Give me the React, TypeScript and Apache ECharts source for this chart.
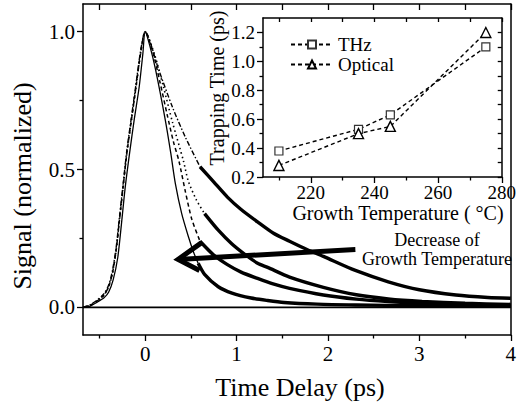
import React, { useEffect, useRef } from 'react';
import * as echarts from 'echarts';

const FONT = "'Liberation Serif', 'Times New Roman', serif";

// ---- main plot data (Time Delay in ps, normalized signal) ----
const curveAThin = [
  [-0.68, 0], [-0.6, 0.005], [-0.53, 0.018], [-0.45, 0.035], [-0.4, 0.055], [-0.35, 0.1],
  [-0.3, 0.18], [-0.26, 0.3], [-0.22, 0.43], [-0.17, 0.56], [-0.12, 0.68], [-0.065, 0.8],
  [-0.025, 0.92], [0, 1.0], [0.05, 0.95], [0.115, 0.86], [0.22, 0.68], [0.28, 0.56],
  [0.33, 0.45], [0.4, 0.34], [0.47, 0.26], [0.53, 0.2], [0.58, 0.16],
];
const curveAThick = [
  [0.58, 0.16], [0.65, 0.12], [0.8, 0.075], [0.95, 0.052], [1.16, 0.034], [1.34, 0.025],
  [1.52, 0.018], [1.88, 0.012], [2.3, 0.009], [3.0, 0.006], [4.0, 0.004],
];
const curveBThin = [
  [-0.68, 0], [-0.6, 0.008], [-0.53, 0.022], [-0.45, 0.045], [-0.4, 0.075], [-0.36, 0.12],
  [-0.32, 0.2], [-0.28, 0.32], [-0.24, 0.44], [-0.2, 0.56], [-0.15, 0.68], [-0.1, 0.8],
  [-0.05, 0.92], [0, 1.0], [0.08, 0.93], [0.16, 0.82], [0.24, 0.7], [0.31, 0.6],
  [0.37, 0.53], [0.44, 0.42], [0.51, 0.32], [0.6, 0.24],
];
const curveBThick = [
  [0.6, 0.24], [0.75, 0.19], [0.9, 0.155], [1.05, 0.128], [1.23, 0.105], [1.4, 0.085],
  [1.58, 0.069], [1.95, 0.045], [2.31, 0.03], [2.66, 0.021], [3.0, 0.015], [3.5, 0.01], [4.0, 0.007],
];
const curveCThin = [
  [-0.68, 0], [-0.6, 0.008], [-0.53, 0.022], [-0.45, 0.045], [-0.4, 0.075], [-0.36, 0.12],
  [-0.32, 0.2], [-0.28, 0.32], [-0.24, 0.44], [-0.2, 0.56], [-0.15, 0.68], [-0.1, 0.8],
  [-0.05, 0.92], [0, 1.0], [0.1, 0.92], [0.2, 0.8], [0.3, 0.67], [0.42, 0.53],
  [0.47, 0.46], [0.56, 0.39], [0.65, 0.34],
];
const curveCThick = [
  [0.65, 0.34], [0.8, 0.28], [0.95, 0.23], [1.1, 0.19], [1.23, 0.16], [1.34, 0.145],
  [1.58, 0.11], [1.95, 0.073], [2.31, 0.046], [2.66, 0.031], [3.03, 0.022], [3.5, 0.015], [4.0, 0.011],
];
const curveDThin = [
  [-0.68, 0], [-0.6, 0.01], [-0.53, 0.025], [-0.45, 0.05], [-0.4, 0.08], [-0.36, 0.13],
  [-0.32, 0.21], [-0.28, 0.33], [-0.24, 0.45], [-0.2, 0.57], [-0.15, 0.69], [-0.1, 0.81],
  [-0.05, 0.93], [0, 1.0], [0.15, 0.86], [0.3, 0.725], [0.44, 0.617], [0.6, 0.51],
];
const curveDThick = [
  [0.6, 0.51], [0.75, 0.455], [0.9, 0.4], [1.05, 0.355], [1.23, 0.31], [1.4, 0.27],
  [1.58, 0.24], [1.77, 0.21], [1.95, 0.185], [2.3, 0.134], [2.66, 0.093], [3.0, 0.064],
  [3.4, 0.045], [3.75, 0.036], [4.0, 0.033],
];
const baseline = [[-0.68, 0], [4.0, 0]];
const arrowShaft = [[2.3, 0.21], [0.36, 0.174]];
const arrowHead = [[0.618, 0.235], [0.36, 0.174], [0.595, 0.134]];

// ---- inset data (Growth Temperature in °C, Trapping Time in ps) ----
const growthTemp = [210, 235, 245, 275];
const thzTime = [0.38, 0.53, 0.63, 1.1];
const opticalTime = [0.28, 0.5, 0.55, 1.2];

// ---- tick values ----
const mainXMajor = [0, 1, 2, 3, 4];
const mainXMinor = [-0.5, 0.5, 1.5, 2.5, 3.5];
const mainXTop = [-0.5, 0, 0.5, 1, 1.5, 2, 2.5, 3, 3.5, 4];
const mainYMajor = [0, 0.5, 1.0];
const mainYMinor = [0.25, 0.75];
const insetXMajor = [220, 240, 260, 280];
const insetXMinor = [210, 230, 250, 270];
const insetXTop = [210, 220, 230, 240, 250, 260, 270, 280];
const insetYMajor = [0.2, 0.4, 0.6, 0.8, 1.0, 1.2];
const insetYMinor = [0.3, 0.5, 0.7, 0.9, 1.1];
const insetYRight = [0.2, 0.3, 0.4, 0.5, 0.6, 0.7, 0.8, 0.9, 1.0, 1.1, 1.2];

function axis(o: any) {
  return {
    type: 'value',
    gridIndex: o.grid,
    position: o.position,
    min: o.min,
    max: o.max,
    splitLine: { show: false },
    axisLine: { show: o.line !== false, onZero: false, lineStyle: { color: '#000', width: 1.5 } },
    axisTick: o.ticks
      ? { show: true, inside: !!o.inside, length: o.len, customValues: o.ticks, lineStyle: { color: '#000', width: 1.3 } }
      : { show: false },
    axisLabel: o.labels
      ? {
          show: true,
          customValues: o.labels,
          fontSize: o.fontSize,
          fontFamily: FONT,
          color: '#000',
          margin: o.margin,
          formatter: o.fmt,
        }
      : { show: false },
  };
}

function lineSeries(data: number[][], width: number, type: any, extra: any = {}) {
  return {
    type: 'line',
    xAxisIndex: 0,
    yAxisIndex: 0,
    data,
    symbol: 'none',
    smooth: 0.25,
    lineStyle: { color: '#000', width, type },
    silent: true,
    ...extra,
  };
}

export default function App() {
  const ref = useRef<HTMLDivElement>(null);
  useEffect(() => {
    const chart = echarts.init(ref.current!, null, { renderer: 'svg' });
    const fmt1 = (v: number) => v.toFixed(1);
    const fmt0 = (v: number) => String(v);
    chart.setOption({
      animation: false,
      backgroundColor: '#fff',
      textStyle: { fontFamily: FONT },
      grid: [
        { left: 83, right: 2, top: 4, bottom: 70 },
        { left: 263, right: 14, top: 18, bottom: 228 },
      ],
      xAxis: [
        axis({ grid: 0, position: 'bottom', min: -0.68, max: 4, ticks: mainXMajor, len: 6, labels: mainXMajor, fontSize: 21, margin: 8, fmt: fmt0 }),
        axis({ grid: 0, position: 'bottom', min: -0.68, max: 4, line: false, ticks: mainXMinor, len: 3.5 }),
        axis({ grid: 0, position: 'top', min: -0.68, max: 4, ticks: mainXTop, len: 6, inside: true }),
        axis({ grid: 1, position: 'bottom', min: 205, max: 280, ticks: insetXMajor, len: 6, labels: insetXMajor, fontSize: 19, margin: 6, fmt: fmt0 }),
        axis({ grid: 1, position: 'bottom', min: 205, max: 280, line: false, ticks: insetXMinor, len: 3.5 }),
        axis({ grid: 1, position: 'top', min: 205, max: 280, ticks: insetXTop, len: 4, inside: true }),
      ],
      yAxis: [
        axis({ grid: 0, position: 'left', min: -0.1, max: 1.1, ticks: mainYMajor, len: 6, labels: mainYMajor, fontSize: 21, margin: 8, fmt: fmt1 }),
        axis({ grid: 0, position: 'left', min: -0.1, max: 1.1, line: false, ticks: mainYMinor, len: 3.5 }),
        axis({ grid: 0, position: 'right', min: -0.1, max: 1.1 }),
        axis({ grid: 1, position: 'left', min: 0.2, max: 1.3, ticks: insetYMajor, len: 6, labels: insetYMajor, fontSize: 19, margin: 8, fmt: fmt1 }),
        axis({ grid: 1, position: 'left', min: 0.2, max: 1.3, line: false, ticks: insetYMinor, len: 3.5 }),
        axis({ grid: 1, position: 'right', min: 0.2, max: 1.3, ticks: insetYRight, len: 4, inside: true }),
      ],
      legend: {
        left: 285,
        top: 30,
        orient: 'vertical',
        itemWidth: 42,
        itemHeight: 10,
        itemGap: 1,
        textStyle: { fontSize: 19, fontFamily: FONT, color: '#000' },
        data: ['THz', 'Optical'],
      },
      series: [
        lineSeries(baseline, 1.6, 'solid', { smooth: false }),
        lineSeries(curveAThin, 1.3, 'solid'),
        lineSeries(curveBThin, 1.5, [4, 3]),
        lineSeries(curveCThin, 1.6, [1.5, 3]),
        lineSeries(curveDThin, 1.4, [5, 2, 1.5, 2]),
        lineSeries(curveAThick, 3.4, 'solid'),
        lineSeries(curveBThick, 3.4, 'solid'),
        lineSeries(curveCThick, 3.4, 'solid'),
        lineSeries(curveDThick, 3.4, 'solid'),
        lineSeries(arrowShaft, 5, 'solid', { smooth: false, z: 5 }),
        lineSeries(arrowHead, 5, 'solid', { smooth: false, z: 5, lineStyle: { color: '#000', width: 5, join: 'miter', miterLimit: 20 } }),
        {
          name: 'THz',
          type: 'line',
          xAxisIndex: 3,
          yAxisIndex: 3,
          data: growthTemp.map((t, i) => [t, thzTime[i]]),
          symbol: 'rect',
          symbolSize: 8,
          itemStyle: { color: '#fff', borderColor: '#333', borderWidth: 1.2 },
          lineStyle: { color: '#000', width: 1.4, type: [4, 3] },
        },
        {
          name: 'Optical',
          type: 'line',
          xAxisIndex: 3,
          yAxisIndex: 3,
          data: growthTemp.map((t, i) => [t, opticalTime[i]]),
          symbol: 'triangle',
          symbolSize: 10,
          itemStyle: { color: '#fff', borderColor: '#000', borderWidth: 1.4 },
          lineStyle: { color: '#000', width: 1.4, type: [4, 3] },
        },
      ],
      graphic: [
        {
          type: 'text', x: 22, y: 186, rotation: Math.PI / 2,
          style: { text: 'Signal (normalized)', fontSize: 26, fontFamily: FONT, fill: '#000', align: 'center', verticalAlign: 'middle' },
        },
        {
          type: 'text', x: 300, y: 387,
          style: { text: 'Time Delay (ps)', fontSize: 26, fontFamily: FONT, fill: '#000', align: 'center', verticalAlign: 'middle' },
        },
        {
          type: 'text', x: 217, y: 88, rotation: Math.PI / 2,
          style: { text: 'Trapping Time (ps)', fontSize: 20, fontFamily: FONT, fill: '#000', align: 'center', verticalAlign: 'middle' },
        },
        {
          type: 'text', x: 398, y: 213,
          style: { text: 'Growth Temperature ( °C)', fontSize: 20, fontFamily: FONT, fill: '#000', align: 'center', verticalAlign: 'middle' },
        },
        {
          type: 'text', x: 437, y: 240,
          style: { text: 'Decrease of', fontSize: 18, fontFamily: FONT, fill: '#000', align: 'center', verticalAlign: 'middle' },
        },
        {
          type: 'text', x: 437, y: 259,
          style: { text: 'Growth Temperature', fontSize: 18, fontFamily: FONT, fill: '#000', align: 'center', verticalAlign: 'middle' },
        },
      ],
    });
    return () => chart.dispose();
  }, []);
  return <div ref={ref} style={{ position: 'absolute', left: 0, top: 0, width: 519, height: 405 }} />;
}
